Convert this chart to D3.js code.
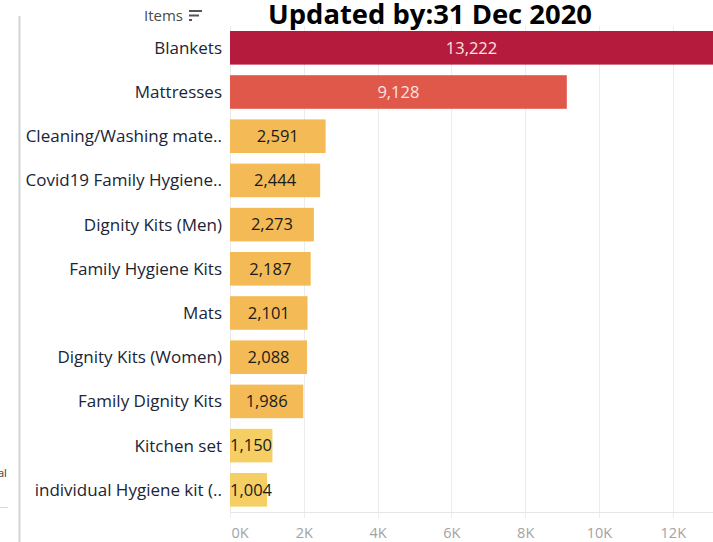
<!DOCTYPE html>
<html>
<head>
<meta charset="utf-8">
<script src="https://cdn.jsdelivr.net/npm/d3@7"></script>
<style>
  body { margin: 0; background: #fff; }
  svg { display: block; }
</style>
</head>
<body>
<svg id="chart" width="713" height="542"></svg>
<script>
// data
var items = ['Blankets', 'Mattresses', 'Cleaning/Washing mate..', 'Covid19 Family Hygiene..',
    'Dignity Kits (Men)', 'Family Hygiene Kits', 'Mats', 'Dignity Kits (Women)',
    'Family Dignity Kits', 'Kitchen set', 'individual Hygiene kit (..'];
var quantities = [13222, 9128, 2591, 2444, 2273, 2187, 2101, 2088, 1986, 1150, 1004];
var tickValues = [0, 2000, 4000, 6000, 8000, 10000, 12000];
var titleText = 'Updated by:31 Dec 2020';

var rows = items.map(function(d, i){ return {name: d, value: quantities[i]}; });

var svg = d3.select('#chart');
var W = 713, H = 542;
var plot = {l: 230, r: 713, t: 26, b: 512.5};
var font = 'Open Sans, sans-serif';

var x = d3.scaleLinear().domain([0, 13090]).range([plot.l, plot.r]);
var y = d3.scaleBand()
    .domain(items)
    .range([25.7, 511.9])
    .paddingInner(0.24)
    .paddingOuter(0.12);

// tableau-ish colour steps
var color = d3.scaleThreshold()
    .domain([1500, 5000, 10000])
    .range(['#f5cf63', '#f4ba55', '#e0584a', '#b51b3d']);

// left decoration bits
svg.append('line')
    .attr('x1', 19.5).attr('x2', 19.5).attr('y1', 16).attr('y2', H)
    .attr('stroke', '#d4d4d4').attr('stroke-width', 2);
svg.append('line')
    .attr('x1', 0).attr('x2', 8).attr('y1', 507.5).attr('y2', 507.5)
    .attr('stroke', '#d9d9d9');
svg.append('text')
    .attr('x', -2).attr('y', 477)
    .style('font-family', font).style('font-size', '11px').style('fill', '#333')
    .text('al');

// gridlines
svg.append('g').selectAll('line')
    .data(tickValues)
    .enter().append('line')
    .attr('x1', function(d){ return Math.round(x(d)) + 0.5; })
    .attr('x2', function(d){ return Math.round(x(d)) + 0.5; })
    .attr('y1', plot.t).attr('y2', 518)
    .attr('stroke', '#ececec');
svg.append('line')
    .attr('x1', plot.l).attr('x2', W).attr('y1', plot.b).attr('y2', plot.b)
    .attr('stroke', '#e6e6e6');

// axis labels
var axis = d3.axisBottom(x)
    .tickValues(tickValues)
    .tickSize(0)
    .tickPadding(0)
    .tickFormat(function(d){ return (d / 1000) + 'K'; });
var axisG = svg.append('g')
    .attr('transform', 'translate(0,' + 527 + ')')
    .call(axis);
axisG.select('.domain').remove();
axisG.selectAll('text')
    .style('font-family', font)
    .style('font-size', '14.5px')
    .style('fill', '#a3a3a3')
    .attr('dy', '0.35em')
    .attr('y', 6)
    .attr('text-anchor', function(d){ return d === 0 ? 'start' : 'middle'; })
    .attr('x', function(d){ return d === 0 ? 1 : 0; });

// bars
var barG = svg.append('g');
barG.selectAll('rect')
    .data(rows)
    .enter().append('rect')
    .attr('x', x(0))
    .attr('y', function(d){ return y(d.name); })
    .attr('width', function(d){ return Math.min(x(d.value), W) - x(0); })
    .attr('height', y.bandwidth())
    .attr('fill', function(d){ return color(d.value); });

// item labels
svg.append('g').selectAll('text')
    .data(rows)
    .enter().append('text')
    .attr('x', 222)
    .attr('y', function(d){ return y(d.name) + y.bandwidth() / 2; })
    .attr('dy', '0.35em')
    .attr('text-anchor', 'end')
    .style('font-family', font)
    .style('font-size', '17px')
    .style('font-weight', 500)
    .style('fill', '#1a2535')
    .text(function(d){ return d.name; });

// value labels
var fmt = d3.format(',');
svg.append('g').selectAll('text')
    .data(rows)
    .enter().append('text')
    .attr('y', function(d){ return y(d.name) + y.bandwidth() / 2; })
    .attr('dy', '0.35em')
    .style('font-family', font)
    .style('font-size', '16.5px')
    .style('font-weight', 500)
    .style('fill', function(d){ return d.value > 5000 ? '#fbe3e3' : '#1a1a1a'; })
    .text(function(d){ return fmt(d.value); })
    .each(function(d){
        var t = d3.select(this);
        var x0 = x(0), x1 = Math.min(x(d.value), W);
        var w = this.getComputedTextLength();
        if (w + 4 > x1 - x0) {
            t.attr('x', x0).attr('text-anchor', 'start');
        } else {
            t.attr('x', (x0 + x1) / 2).attr('text-anchor', 'middle');
        }
    });

// header "Items" with sort icon
svg.append('text')
    .attr('x', 183).attr('y', 21)
    .attr('text-anchor', 'end')
    .style('font-family', font)
    .style('font-size', '15px')
    .style('fill', '#4a4a4a')
    .text('Items');
var sortIcon = svg.append('g').attr('stroke', '#555').attr('stroke-width', 2);
[[189, 202, 11], [189, 199, 15.5], [189, 192, 20]].forEach(function(s){
    sortIcon.append('line')
        .attr('x1', s[0]).attr('x2', s[1]).attr('y1', s[2]).attr('y2', s[2]);
});

// title
svg.append('text')
    .attr('x', 268).attr('y', 24)
    .attr('textLength', 324)
    .attr('lengthAdjust', 'spacingAndGlyphs')
    .style('font-family', font)
    .style('font-size', '26px')
    .style('font-weight', 'bold')
    .style('fill', '#000')
    .text(titleText);
</script>
</body>
</html>
